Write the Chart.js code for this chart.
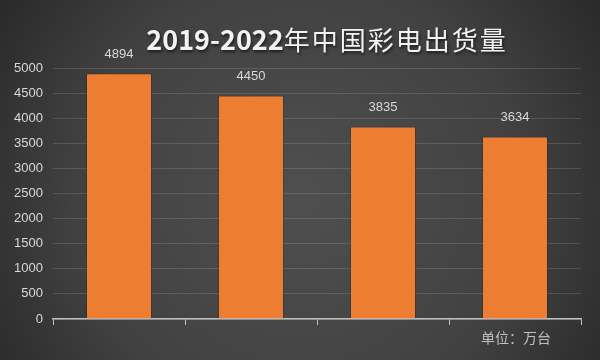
<!DOCTYPE html>
<html>
<head>
<meta charset="utf-8">
<script src="https://cdn.jsdelivr.net/npm/chart.js@4"></script>
<style>
  html, body { margin: 0; padding: 0; background: #333; }
  #wrap { width: 600px; height: 360px; }
</style>
</head>
<body>
<div id="wrap"><canvas id="tvChart" width="600" height="360"></canvas></div>
<script>
// data
const years = ['2019', '2020', '2021', '2022'];
const shipments = [4894, 4450, 3835, 3634];
const yTicks = [0, 500, 1000, 1500, 2000, 2500, 3000, 3500, 4000, 4500, 5000];
const titleYears = '2019-2022';
const titleRest = '年中国彩电出货量';
const unitText = '单位：万台';

const labelFont = '"Liberation Sans", "Noto Sans CJK SC", sans-serif';

// dark radial background, like the office chart style
const bgPlugin = {
  id: 'bg',
  beforeDraw(chart) {
    const ctx = chart.ctx;
    const w = chart.width, h = chart.height;
    const g = ctx.createRadialGradient(w * 0.5, h * 0.55, 0, w * 0.5, h * 0.55, w * 0.62);
    g.addColorStop(0, '#4f4f4f');
    g.addColorStop(0.6, '#414141');
    g.addColorStop(1, '#272727');
    ctx.save();
    ctx.fillStyle = g;
    ctx.fillRect(0, 0, w, h);
    ctx.restore();
  }
};

// title, value labels over bars, unit note
const labelPlugin = {
  id: 'valueLabels',
  afterDatasetsDraw(chart) {
    const ctx = chart.ctx;
    ctx.save();
    ctx.textBaseline = 'middle';

    // title: bold year range, lighter chinese part, total ~358px wide
    const boldFont = 'bold 27px "Noto Sans CJK SC", sans-serif';
    const lightFont = '26px "Noto Sans CJK SC", sans-serif';
    ctx.font = boldFont;
    const w1 = ctx.measureText(titleYears).width;
    ctx.font = lightFont;
    ctx.letterSpacing = '2px';
    const w2 = ctx.measureText(titleRest).width;
    const startX = 327 - (w1 + w2) / 2;
    ctx.shadowColor = 'rgba(0,0,0,0.6)';
    ctx.shadowOffsetX = 1;
    ctx.shadowOffsetY = 2;
    ctx.shadowBlur = 3;
    ctx.fillStyle = '#f2f2f2';
    ctx.textAlign = 'left';
    ctx.fillText(titleRest, startX + w1, 40);
    ctx.letterSpacing = '0px';
    ctx.font = boldFont;
    ctx.fillText(titleYears, startX, 40);
    ctx.shadowColor = 'transparent';

    ctx.textAlign = 'center';
    ctx.fillStyle = '#d9d9d9';
    ctx.font = '13px ' + labelFont;
    chart.getDatasetMeta(0).data.forEach((bar, i) => {
      ctx.fillText(shipments[i], bar.x, bar.y - 19);
    });

    ctx.font = '14px "Noto Sans CJK SC", sans-serif';
    ctx.fillStyle = '#bfbfbf';
    ctx.textAlign = 'right';
    ctx.fillText(unitText, chart.chartArea.right - 30, 338);
    ctx.restore();
  }
};

new Chart(document.getElementById('tvChart'), {
  type: 'bar',
  data: {
    labels: years,
    datasets: [{
      data: shipments,
      backgroundColor: '#ed7d31',
      borderColor: 'rgba(0,0,0,0.15)',
      borderWidth: 1,
      categoryPercentage: 1,
      barPercentage: 0.5
    }]
  },
  options: {
    responsive: false,
    animation: false,
    layout: { padding: { left: 0, right: 19, bottom: 35, top: 68 } },
    plugins: {
      legend: { display: false },
      tooltip: { enabled: false },
      title: { display: false }
    },
    scales: {
      x: {
        ticks: { display: false },
        grid: {
          offset: true,
          drawOnChartArea: false,
          tickLength: 6,
          color: '#bfbfbf'
        },
        border: { color: '#bfbfbf', width: 1.5 }
      },
      y: {
        min: 0,
        max: 5000,
        afterBuildTicks(scale) {
          scale.ticks = yTicks.map(v => ({ value: v }));
        },
        afterFit(scale) { scale.width = 53; },
        ticks: {
          color: '#d9d9d9',
          padding: 10,
          font: { family: labelFont, size: 13 },
          callback: v => String(v)
        },
        grid: { color: 'rgba(255,255,255,0.13)', drawTicks: false },
        border: { display: false }
      }
    }
  },
  plugins: [bgPlugin, labelPlugin]
});
</script>
</body>
</html>
